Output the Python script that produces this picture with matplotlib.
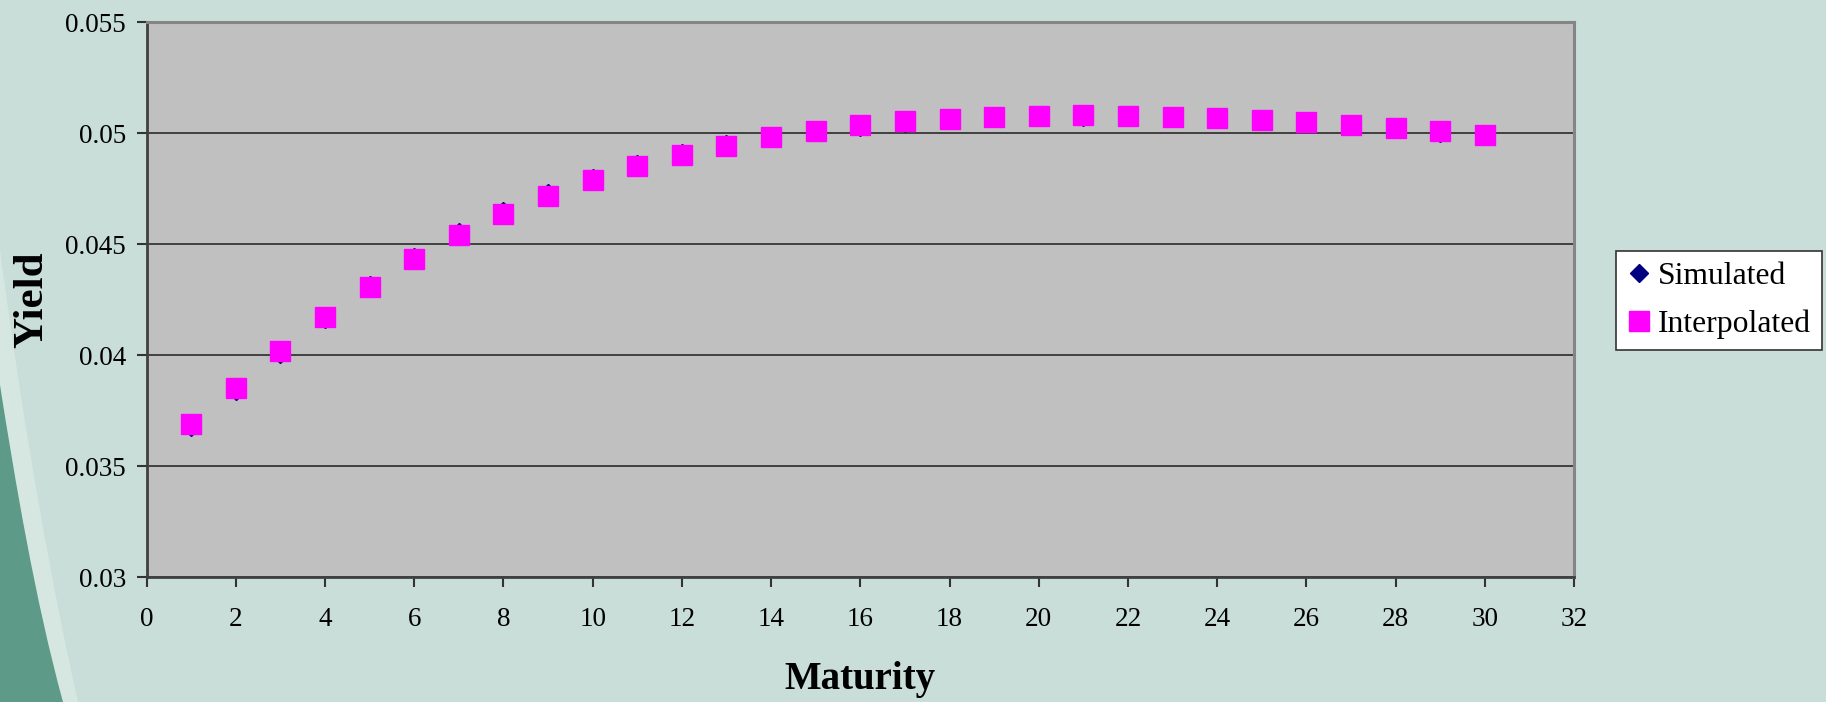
import matplotlib.pyplot as plt
import numpy as np
from matplotlib.patches import PathPatch
from matplotlib.path import Path

# data
maturity = list(range(1, 31))
simulated = [0.03677, 0.03840, 0.04005, 0.04162, 0.04318, 0.04444, 0.04554, 0.04652,
             0.04733, 0.04800, 0.04861, 0.04912, 0.04953, 0.04980, 0.05005, 0.05029,
             0.05048, 0.05060, 0.05070, 0.05074, 0.05074, 0.05073, 0.05069, 0.05064,
             0.05056, 0.05046, 0.05034, 0.05020, 0.05004, 0.04991]
interpolated = [0.03689, 0.03853, 0.04018, 0.04171, 0.04310, 0.04433, 0.04542, 0.04635,
                0.04720, 0.04788, 0.04851, 0.04904, 0.04945, 0.04985, 0.05012, 0.05036,
                0.05054, 0.05066, 0.05075, 0.05080, 0.05082, 0.05080, 0.05075, 0.05069,
                0.05061, 0.05050, 0.05038, 0.05024, 0.05009, 0.04993]
x_ticks = list(range(0, 33, 2))
y_ticks = [0.03, 0.035, 0.04, 0.045, 0.05, 0.055]
y_labels = ['0.03', '0.035', '0.04', '0.045', '0.05', '0.055']

plt.rcParams['font.family'] = ['Liberation Serif', 'DejaVu Serif']

W, H = 1826, 702
fig = plt.figure(figsize=(W / 100, H / 100), dpi=100)
fig.patch.set_facecolor('#c9ded8')


def px(x, y):
    """pixel coords (from top-left) -> figure fraction"""
    return (x / W, 1 - y / H)


# slide decoration: teal swoosh in the bottom-left corner
light = Path([px(0, 250), px(25, 440), px(55, 600), px(78, 702), px(0, 702), px(0, 250)],
             [Path.MOVETO, Path.CURVE4, Path.CURVE4, Path.CURVE4, Path.LINETO, Path.CLOSEPOLY])
fig.patches.append(PathPatch(light, transform=fig.transFigure, fc='#d6e7e1', ec='none', zorder=0))
dark = Path([px(0, 385), px(15, 480), px(35, 600), px(63, 702), px(0, 702), px(0, 385)],
            [Path.MOVETO, Path.CURVE4, Path.CURVE4, Path.CURVE4, Path.LINETO, Path.CLOSEPOLY])
fig.patches.append(PathPatch(dark, transform=fig.transFigure, fc='#5e9a88', ec='none', zorder=0))

ax = fig.add_axes([146.6 / W, 1 - 577.4 / H, (1574 - 146.6) / W, (577.4 - 22.4) / H])
ax.set_facecolor('#c0c0c0')

ax.plot(maturity, simulated, linestyle='none', marker='D', ms=9.5, color='#000080',
        label='Simulated', zorder=3)
ax.plot(maturity, interpolated, linestyle='none', marker='s', ms=14.5, color='#ff00ff',
        label='Interpolated', zorder=4)

ax.set_xlim(0, 32)
ax.set_ylim(0.03, 0.055)
ax.set_xticks(x_ticks)
ax.set_yticks(y_ticks)
ax.set_yticklabels(y_labels)
ax.yaxis.grid(True, color='#2a2a2a', linewidth=1.2)
ax.set_axisbelow(True)

ax.tick_params(axis='both', direction='out', length=7, width=1.5, color='#333333',
               labelsize=19.5, labelcolor='black')
ax.tick_params(axis='x', pad=14)
ax.tick_params(axis='y', pad=8)

for s in ['left', 'bottom']:
    ax.spines[s].set_color('#404040')
    ax.spines[s].set_linewidth(2)
for s in ['top', 'right']:
    ax.spines[s].set_color('#858585')
    ax.spines[s].set_linewidth(2.2)

fig.text(860 / W, 1 - 679 / H, 'Maturity', ha='center', va='center',
         fontsize=28, fontweight='bold')
fig.text(32.5 / W, 1 - 300 / H, 'Yield', ha='center', va='center', rotation=90,
         fontsize=31, fontweight='bold')

leg = fig.legend(loc='center', bbox_to_anchor=(1617 / W, 1 - 353 / H, 204 / W, 105 / H),
                 fontsize=22.8, frameon=True, fancybox=False, edgecolor='#333333',
                 facecolor='white', framealpha=1, borderpad=0.35, handlelength=0.8,
                 handletextpad=0.2, labelspacing=0.6, borderaxespad=0)
leg.get_frame().set_linewidth(1.2)

fig.savefig('out.png', dpi=100, facecolor=fig.get_facecolor())
